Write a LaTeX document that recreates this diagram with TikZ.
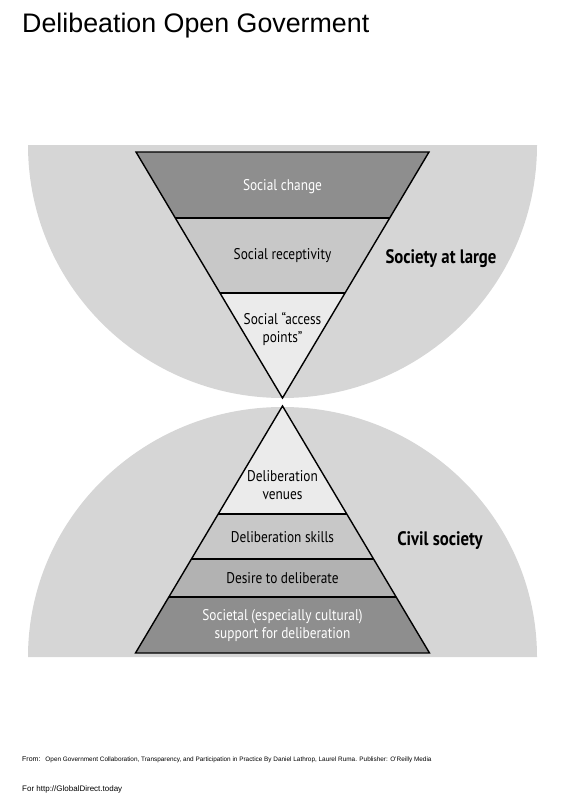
\documentclass[tikz,border=0pt]{standalone}
\usepackage{fontspec}
\setmainfont{Liberation Sans}
\newfontfamily\lblfont[FakeStretch=0.86]{PT Sans}
\usetikzlibrary{calc}
\definecolor{discgray}{HTML}{D6D6D6}
\definecolor{darkband}{HTML}{8E8E8E}
\definecolor{midband}{HTML}{C8C8C8}
\definecolor{lightband}{HTML}{EBEBEB}
\definecolor{descband}{HTML}{B2B2B2}
\tikzset{
  bandtext/.style={font=\lblfont\fontsize{15.5}{18}\selectfont, align=center, text=black},
  bandwhite/.style={bandtext, text=white},
  sidetext/.style={font=\lblfont\bfseries\fontsize{19.5}{22}\selectfont, text=black},
  edge/.style={draw=black, line width=1.4pt, line join=miter},
  sep/.style={draw=black, line width=1.2pt},
}
\begin{document}
\begin{tikzpicture}[x=1pt,y=-1pt]
\useasboundingbox (0,0) rectangle (565,800);
% title
\node[anchor=west, font=\fontsize{26.8}{30}\selectfont, inner sep=0pt] (title) at (22,26) {Delibeation Open Goverment};
% discs
\fill[discgray] (28,145) arc[start angle=180, end angle=0, x radius=254.5, y radius=253] -- cycle;
\fill[discgray] (28,657) arc[start angle=180, end angle=360, x radius=254.5, y radius=250] -- cycle;
% upper (inverted) triangle
\coordinate (UL) at (136,152);
\coordinate (UR) at (429,152);
\coordinate (UA) at (282.5,398);
\coordinate (U1L) at ($(UL)!0.268!(UA)$);
\coordinate (U1R) at ($(UR)!0.268!(UA)$);
\coordinate (U2L) at ($(UL)!0.573!(UA)$);
\coordinate (U2R) at ($(UR)!0.573!(UA)$);
\fill[darkband] (UL) -- (UR) -- (U1R) -- (U1L) -- cycle;
\fill[midband] (U1L) -- (U1R) -- (U2R) -- (U2L) -- cycle;
\fill[lightband] (U2L) -- (U2R) -- (UA) -- cycle;
\draw[sep] (U1L) -- (U1R);
\draw[sep] (U2L) -- (U2R);
\draw[edge] (UL) -- (UR) -- (UA) -- cycle;
% lower triangle
\coordinate (LA) at (282.5,406);
\coordinate (LL) at (135.5,653);
\coordinate (LR) at (429.5,653);
\coordinate (L1L) at ($(LA)!0.437!(LL)$);
\coordinate (L1R) at ($(LA)!0.437!(LR)$);
\coordinate (L2L) at ($(LA)!0.619!(LL)$);
\coordinate (L2R) at ($(LA)!0.619!(LR)$);
\coordinate (L3L) at ($(LA)!0.773!(LL)$);
\coordinate (L3R) at ($(LA)!0.773!(LR)$);
\fill[lightband] (LA) -- (L1R) -- (L1L) -- cycle;
\fill[midband] (L1L) -- (L1R) -- (L2R) -- (L2L) -- cycle;
\fill[descband] (L2L) -- (L2R) -- (L3R) -- (L3L) -- cycle;
\fill[darkband] (L3L) -- (L3R) -- (LR) -- (LL) -- cycle;
\draw[sep] (L1L) -- (L1R);
\draw[sep] (L2L) -- (L2R);
\draw[sep] (L3L) -- (L3R);
\draw[edge] (LA) -- (LR) -- (LL) -- cycle;
% band texts
\node[bandwhite] (t1) at (282.5,187) {Social change};
\node[bandtext] (t2) at (282.5,256) {Social receptivity};
\node[bandtext] (t3) at (282.5,329) {Social “access\\points”};
\node[bandtext] (t4) at (282.5,485) {Deliberation\\venues};
\node[bandtext] (t5) at (282.5,537) {Deliberation skills};
\node[bandtext] (t6) at (282.5,578) {Desire to deliberate};
\node[bandwhite] (t7) at (282.5,626) {Societal (especially cultural)\\support for deliberation};
% side labels
\node[sidetext] (sl) at (441,259) {Society at large};
\node[sidetext] (cs) at (440,541) {Civil society};
% footer
\node[anchor=west, inner sep=0pt] (from) at (22,760) {\fontsize{7}{8}\selectfont From:\hspace{5pt}\fontsize{6.4}{7}\selectfont Open Government Collaboration, Transparency, and Participation in Practice By Daniel Lathrop, Laurel Ruma. Publisher: O'Reilly Media};
\node[anchor=west, inner sep=0pt, font=\fontsize{8}{9}\selectfont] (for) at (22,789) {For http://GlobalDirect.today};
\end{tikzpicture}
\end{document}
